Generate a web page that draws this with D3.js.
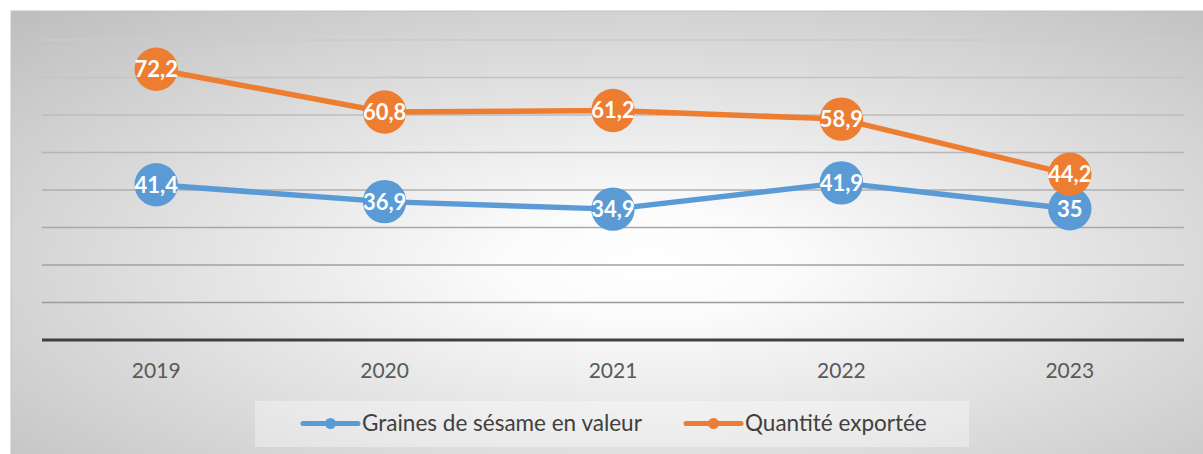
<!DOCTYPE html>
<html>
<head>
<meta charset="utf-8">
<script src="https://cdn.jsdelivr.net/npm/d3@7"></script>
<style>
  html, body { margin: 0; padding: 0; background: #ffffff; }
  svg { display: block; }
</style>
</head>
<body>
<svg id="chart" width="1203" height="454"></svg>
<script>
const years = ["2019", "2020", "2021", "2022", "2023"];
const valeurValues = [41.4, 36.9, 34.9, 41.9, 35];
const quantiteValues = [72.2, 60.8, 61.2, 58.9, 44.2];
const gridTicks = [10, 20, 30, 40, 50, 60, 70, 80];
const seriesNames = ["Graines de sésame en valeur", "Quantité exportée"];
const seriesColors = ["#5B9BD5", "#ED7D31"];

const svg = d3.select("#chart");
const defs = svg.append("defs");

const bg = defs.append("radialGradient")
  .attr("id", "bgGrad")
  .attr("cx", 0.53).attr("cy", 0.55).attr("r", 0.8)
  .attr("fx", 0.53).attr("fy", 0.55);
bg.append("stop").attr("offset", "0%").attr("stop-color", "#ffffff");
bg.append("stop").attr("offset", "15%").attr("stop-color", "#fbfbfb");
bg.append("stop").attr("offset", "100%").attr("stop-color", "#bababa");

const gridGrad = defs.append("linearGradient")
  .attr("id", "gridGrad")
  .attr("gradientUnits", "userSpaceOnUse")
  .attr("x1", 0).attr("y1", 40).attr("x2", 0).attr("y2", 303);
gridGrad.append("stop").attr("offset", "0%").attr("stop-color", "#cbcbcb");
gridGrad.append("stop").attr("offset", "100%").attr("stop-color", "#9a9a9a");

// chart background
svg.append("rect")
  .attr("x", 11).attr("y", 11).attr("width", 1200).attr("height", 460)
  .attr("fill", "url(#bgGrad)")
  .attr("stroke", "#c4c4c4").attr("stroke-width", 1);

const x = d3.scaleBand().domain(years).range([42, 1184]);
const y = d3.scaleLinear().domain([0, 80]).range([340, 40]);
const cx = d => x(d) + x.bandwidth() / 2;

// gridlines
svg.append("g").selectAll("line").data(gridTicks).join("line")
  .attr("x1", 42).attr("x2", 1184)
  .attr("y1", d => y(d)).attr("y2", d => y(d))
  .attr("stroke", "url(#gridGrad)").attr("stroke-width", 1.6);

// x axis
const xAxis = svg.append("g")
  .attr("transform", `translate(0,${y(0)})`)
  .call(d3.axisBottom(x).tickSize(0).tickPadding(23));
xAxis.select(".domain").remove();
xAxis.selectAll("text")
  .attr("font-family", "Lato, 'Open Sans', sans-serif")
  .attr("font-size", 21)
  .attr("fill", "#595959");

svg.append("line")
  .attr("x1", 42).attr("x2", 1184)
  .attr("y1", y(0)).attr("y2", y(0))
  .attr("stroke", "#404040").attr("stroke-width", 3);

const series = [valeurValues, quantiteValues];
const line = d3.line().x((d, i) => cx(years[i])).y(d => y(d));
const fmt = v => String(v).replace(".", ",");

series.forEach((vals, si) => {
  const g = svg.append("g");
  g.append("path")
    .attr("d", line(vals))
    .attr("fill", "none")
    .attr("stroke", seriesColors[si])
    .attr("stroke-width", 5.5)
    .attr("stroke-linejoin", "round")
    .attr("stroke-linecap", "round");
  g.selectAll("circle").data(vals).join("circle")
    .attr("cx", (d, i) => cx(years[i]))
    .attr("cy", d => y(d))
    .attr("r", 21.7)
    .attr("fill", seriesColors[si]);
  g.selectAll("text").data(vals).join("text")
    .attr("x", (d, i) => cx(years[i]))
    .attr("y", d => y(d))
    .attr("dy", "0.36em")
    .attr("text-anchor", "middle")
    .attr("font-family", "Lato, 'Open Sans', sans-serif")
    .attr("font-weight", "bold")
    .attr("font-size", 22)
    .attr("fill", "#ffffff")
    .text(d => fmt(d));
});

// legend
const legend = svg.append("g");
legend.append("rect")
  .attr("x", 255).attr("y", 401).attr("width", 714).attr("height", 46)
  .attr("fill", "#ffffff").attr("fill-opacity", 0.35);
const legendX = [303, 686];
seriesNames.forEach((name, i) => {
  const lx = legendX[i];
  legend.append("line")
    .attr("x1", lx).attr("x2", lx + 55)
    .attr("y1", 423.5).attr("y2", 423.5)
    .attr("stroke", seriesColors[i]).attr("stroke-width", 5)
    .attr("stroke-linecap", "round");
  legend.append("circle")
    .attr("cx", lx + 27.5).attr("cy", 423.5).attr("r", 5.5)
    .attr("fill", seriesColors[i]);
  legend.append("text")
    .attr("x", lx + 59).attr("y", 431)
    .attr("font-family", "Lato, 'Open Sans', sans-serif")
    .attr("font-size", 22.5)
    .attr("fill", "#404040")
    .text(name);
});
</script>
</body>
</html>
